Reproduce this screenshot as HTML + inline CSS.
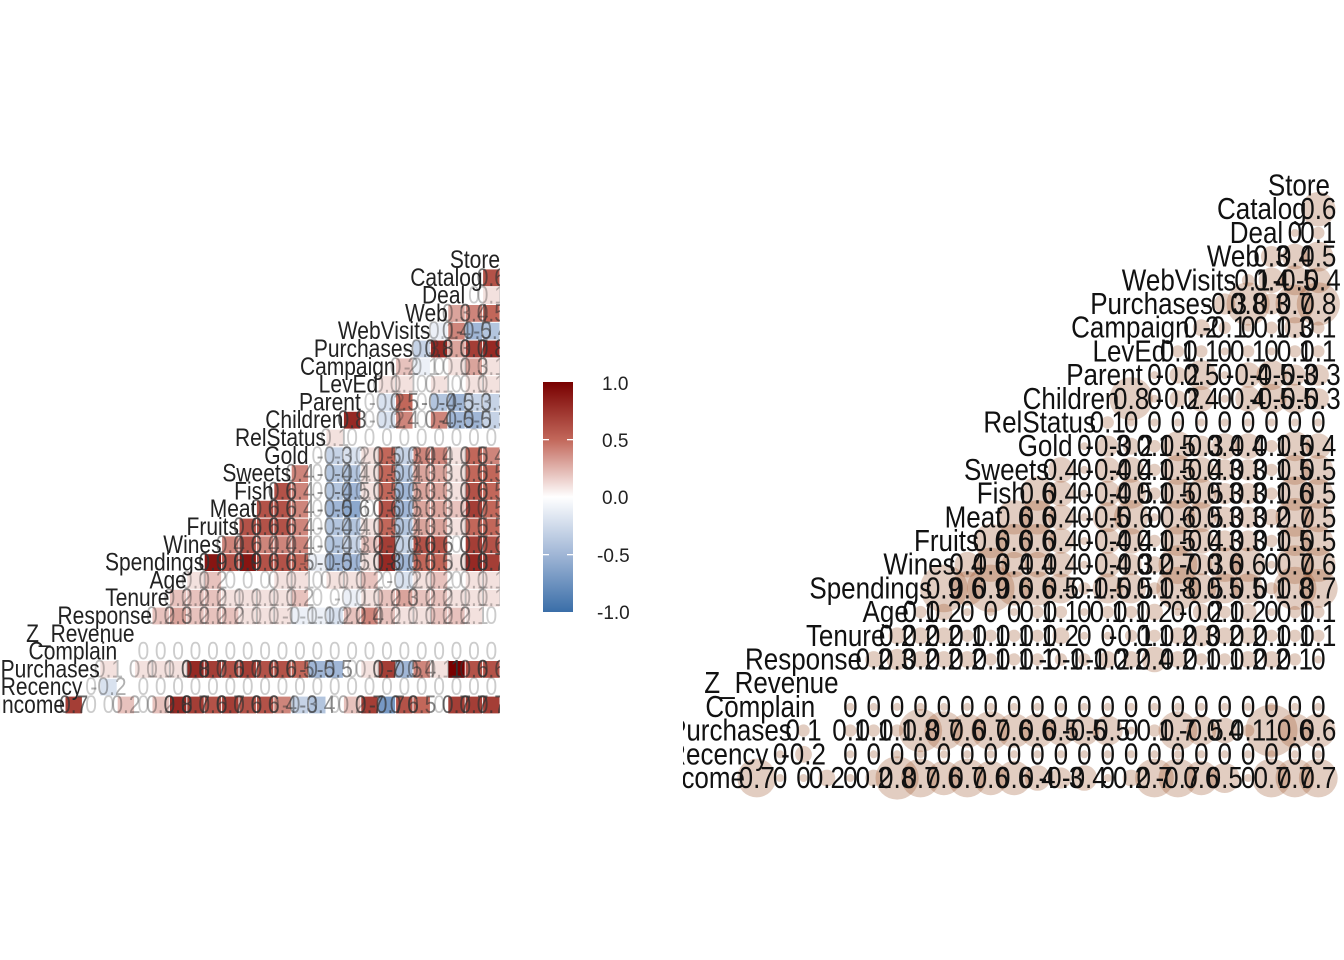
<!DOCTYPE html>
<html><head><meta charset="utf-8"><style>
html,body{margin:0;padding:0;background:#fff;}
svg{display:block;font-family:"Liberation Sans",Arial,sans-serif;}
</style></head><body>
<svg id="chart" width="1344" height="960" viewBox="0 0 1344 960">
<defs>
<linearGradient id="cbar" x1="0" y1="0" x2="0" y2="1">
<stop offset="0" stop-color="#780000"/><stop offset="0.25" stop-color="#c2675a"/>
<stop offset="0.5" stop-color="#ffffff"/><stop offset="0.75" stop-color="#a0b6d6"/>
<stop offset="1" stop-color="#3a6ea8"/></linearGradient>
<clipPath id="clipL"><rect x="0" y="0" width="500" height="960"/></clipPath>
<clipPath id="clipR"><rect x="683" y="0" width="661" height="960"/></clipPath>
</defs>
<g id="left" clip-path="url(#clipL)"></g>
<g id="right" clip-path="url(#clipR)"></g>
<g>
<rect x="543" y="382" width="30" height="230" fill="url(#cbar)"/>
<g fill="#fff"><rect x="543" y="439" width="6" height="1.3"/><rect x="567" y="439" width="6" height="1.3"/><rect x="543" y="554" width="6" height="1.3"/><rect x="567" y="554" width="6" height="1.3"/></g>
<g font-size="19" fill="#222">
<text x="602" y="390">1.0</text>
<text x="602" y="447">0.5</text>
<text x="602" y="504">0.0</text>
<text x="597" y="562">-0.5</text>
<text x="597" y="619">-1.0</text>
</g></g>
</svg>
<script>
const labels = ["Income","Recency","LogPurchases","Complain","Z_Revenue","Response","Tenure","Age","Spendings","Wines","Fruits","Meat","Fish","Sweets","Gold","RelStatus","Children","Parent","LevEd","Campaign","Purchases","WebVisits","Web","Deal","Catalog","Store"];
const row0 = [0.7,0,0,0.2,0,0.2,0.8,0.7,0.6,0.7,0.6,0.6,0.4,-0.3,-0.4,0,0.2,0.7,-0.7,0.6,0.5,0,0.7,0.7,0.7];
const row1 = [0,-0.2,null,0,0,0,0,0,0,0,0,0,0,0,0,0,0,0,0,0,0,0,0,0];
const row2 = [0.1,null,0.1,0.1,0.1,0.8,0.7,0.6,0.7,0.6,0.6,0.5,-0.5,-0.5,0,0.1,0.7,-0.5,0.4,0.1,1,0.6,0.6];
const row3 = [null,0,0,0,0,0,0,0,0,0,0,0,0,0,0,0,0,0,0,0,0,0];
const row4 = [null,null,null,null,null,null,null,null,null,null,null,null,null,null,null,null,null,null,null,null,null];
const row5 = [0.2,0.3,0.2,0.2,0.2,0.1,0.1,0.1,-0.1,-0.1,-0.2,0.2,0.4,0.2,0.1,0.1,0.2,0.2,0.1,0];
const row6 = [0.2,0.2,0.2,0.1,0.1,0.1,0.1,0.2,0,0,-0.1,0.1,0.2,0.3,0.2,0.2,0.1,0.1,0.1];
const row7 = [0.1,0.2,0,0,0,0.1,0.1,0,0.1,0.1,0.2,0,-0.2,0.1,0.2,0,0.1,0.1];
const row8 = [0.9,0.6,0.9,0.6,0.6,0.5,-0.1,-0.5,-0.5,0.1,0.8,-0.5,0.5,0.5,0.1,0.8,0.7];
const row9 = [0.4,0.6,0.4,0.4,0.4,0,-0.4,-0.3,0.2,0.7,-0.3,0.6,0.6,0,0.7,0.6];
const row10 = [0.6,0.6,0.6,0.4,0,-0.4,-0.4,0.1,0.5,-0.4,0.3,0.3,0.1,0.5,0.5];
const row11 = [0.6,0.6,0.4,0,-0.5,-0.6,0,0.6,-0.5,0.3,0.3,0.2,0.7,0.5];
const row12 = [0.6,0.4,0,-0.4,-0.5,0.1,0.5,-0.5,0.3,0.3,0.1,0.6,0.5];
const row13 = [0.4,0,-0.4,-0.4,0.1,0.5,-0.4,0.3,0.3,0.1,0.5,0.5];
const row14 = [0,-0.3,-0.2,0.1,0.5,-0.3,0.4,0.4,0.1,0.5,0.4];
const row15 = [0.1,0,0,0,0,0,0,0,0,0];
const row16 = [0.8,0,-0.2,0.4,0,0.4,-0.5,-0.5,-0.3];
const row17 = [0,-0.2,0.5,0,-0.4,-0.5,-0.3,-0.3];
const row18 = [0.1,0.1,0,0.1,0,0.1,0.1];
const row19 = [0.2,-0.1,0,0.1,0.3,0.1];
const row20 = [-0.3,0.8,0.3,0.7,0.8];
const row21 = [-0.1,0.4,-0.5,-0.4];
const row22 = [0.3,0.4,0.5];
const row23 = [0,0.1];
const row24 = [0.6];
const rows = [row0,row1,row2,row3,row4,row5,row6,row7,row8,row9,row10,row11,row12,row13,row14,row15,row16,row17,row18,row19,row20,row21,row22,row23,row24,[]];

const NS="http://www.w3.org/2000/svg";
function mk(tag,attrs,parent){const e=document.createElementNS(NS,tag);for(const k in attrs)e.setAttribute(k,attrs[k]);parent.appendChild(e);return e;}
function lerp(a,b,t){return a.map((v,i)=>Math.round(v+(b[i]-v)*t));}
function color(v){
  const stops=[[-1,[58,110,168]],[-0.5,[160,182,214]],[0,[255,255,255]],[0.5,[194,103,90]],[1,[120,0,0]]];
  for(let i=0;i<4;i++){if(v<=stops[i+1][0]){const t=(v-stops[i][0])/0.5;return "rgb("+lerp(stops[i][1],stops[i+1][1],t).join(",")+")";}}
  return "rgb(120,0,0)";
}
function fmt(v){return v===0?"0":String(v);}
function tx(x,y,sy){return "translate("+x+","+y+") scale(1,"+sy+")";}

const L={x0:65,cw:17.4,yBottom:705,rh:17.8};
const lx=c=>L.x0+c*L.cw;
const ly=r=>L.yBottom-r*L.rh;
const R={x0:745,cw:23.4,yBottom:778,rh:23.7};
const rx=c=>R.x0+c*R.cw;
const ry=r=>R.yBottom-r*R.rh;

const left=document.getElementById('left'), right=document.getElementById('right');
const gCellsL=mk('g',{},left), gTxtL=mk('g',{},left), gLabL=mk('g',{},left);
const gCircR=mk('g',{},right), gTxtR=mk('g',{},right), gLabR=mk('g',{},right);

rows.forEach((vals,r)=>{
  vals.forEach((v,k)=>{
    const c=r+1+k;
    if(v===null) return;
    const cell=mk('rect',{x:lx(c-1)+0.5,y:ly(r)-L.rh/2+0.5,width:L.cw-1,height:L.rh-1,fill:color(v)},gCellsL);
    
    
    const t=mk('text',{transform:tx(lx(c-1)+L.cw/2,ly(r)+8,1.18),'font-size':21,'text-anchor':'middle',fill:'#333','fill-opacity':(0.25+0.7*Math.abs(v)).toFixed(2)},gTxtL);
    t.textContent=fmt(v);
    
    
    const rad=4+22*Math.abs(v);
    const circ=mk('circle',{cx:rx(c-1)+R.cw/2,cy:ry(r),r:rad,fill:'rgb(160,88,50)','fill-opacity':0.3},gCircR);
    
    
    const t2=mk('text',{transform:tx(rx(c-1)+R.cw/2,ry(r)+10,1.18),'font-size':26,'text-anchor':'middle',fill:'#111'},gTxtR);
    t2.textContent=fmt(v);
    
    
  });
});
labels.forEach((lab,r)=>{
  const t=mk('text',{transform:tx(lx(r),ly(r)+8,1.18),'font-size':21,'text-anchor':'end',fill:'#222'},gLabL);
  t.textContent=lab;
  
  
  const t2=mk('text',{transform:tx(rx(r),ry(r)+10,1.18),'font-size':26,'text-anchor':'end',fill:'#111'},gLabR);
  t2.textContent=lab;
  
  
});
</script>
</body></html>
